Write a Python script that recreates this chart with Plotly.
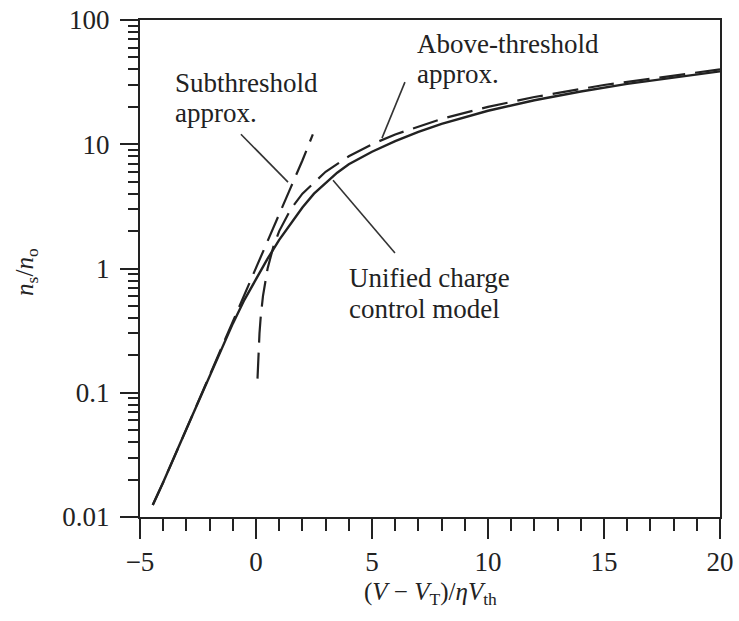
import plotly.graph_objects as go

# Normalised channel voltage (V - VT)/(eta*Vth) and sheet density ns/no
x_unified = [-4.45, -4, -3, -2, -1, -0.5, 0, 0.5, 1, 1.5, 2, 2.5, 3, 3.5, 4,
             5, 6, 7, 8, 10, 12, 14, 16, 18, 20]
n_unified = [0.0125, 0.019, 0.051, 0.137, 0.36, 0.56, 0.82, 1.2, 1.7, 2.3, 3.1,
             4.0, 4.9, 5.9, 6.9, 8.7, 10.6, 12.6, 14.6, 18.6, 22.6, 26.6,
             30.6, 34.6, 38.6]

x_sub = [-4.45, -4, -3, -2, -1, -0.5, 0, 0.5, 1, 1.5, 2, 2.45]
n_sub = [0.0125, 0.019, 0.051, 0.137, 0.37, 0.61, 1.0, 1.65, 2.7, 4.5, 7.4, 12.0]

x_above = [0.065, 0.08, 0.1, 0.15, 0.2, 0.3, 0.5, 0.75, 1, 1.5, 2, 3, 4, 5,
           6, 8, 10, 12, 15, 20]
n_above = [0.13, 0.16, 0.2, 0.3, 0.4, 0.6, 1.0, 1.5, 2, 3, 4, 6, 8, 10,
           12, 16, 20, 24, 30, 40]

x_ticks = [-5, 0, 5, 10, 15, 20]
x_ticktext = ["\u22125", "0", "5", "10", "15", "20"]
y_ticks = [0.01, 0.1, 1, 10, 100]
y_ticktext = ["0.01", "0.1", "1", "10", "100"]

X_RANGE = (-5, 20)
Y_RANGE = (-2, 2)  # log10 units

SERIF = "Liberation Serif, Times New Roman, serif"
INK = "#222222"


def to_paper(x, logn):
    return ((x - X_RANGE[0]) / (X_RANGE[1] - X_RANGE[0]),
            (logn - Y_RANGE[0]) / (Y_RANGE[1] - Y_RANGE[0]))


fig = go.Figure()

fig.add_trace(go.Scatter(x=x_sub, y=n_sub, mode="lines",
                         line=dict(color=INK, width=2.2, dash="26px,10px"),
                         name="Subthreshold approx."))
fig.add_trace(go.Scatter(x=x_above, y=n_above, mode="lines",
                         line=dict(color=INK, width=2.2, dash="26px,10px"),
                         name="Above-threshold approx."))
fig.add_trace(go.Scatter(x=x_unified, y=n_unified, mode="lines",
                         line=dict(color=INK, width=2.4),
                         name="Unified charge control model"))

# Leader lines from the labels to the curves, as (x, log10 n) pairs
leaders = [
    ((-0.65, 1.081), (1.38, 0.695)),
    ((6.42, 1.50), (5.43, 1.049)),
    ((3.32, 0.711), (5.99, 0.124)),
]
for (xa, ya), (xb, yb) in leaders:
    p0 = to_paper(xa, ya)
    p1 = to_paper(xb, yb)
    fig.add_shape(type="line", xref="paper", yref="paper",
                  x0=p0[0], y0=p0[1], x1=p1[0], y1=p1[1],
                  line=dict(color="#333333", width=1.6))

# Label lines: (text, x, log10 n of line centre)
labels = [
    ("Subthreshold", -3.58, 1.492),
    ("approx.", -3.58, 1.250),
    ("Above-threshold", 6.85, 1.805),
    ("approx.", 6.85, 1.564),
    ("Unified charge", 3.92, -0.077),
    ("control model", 3.92, -0.327),
]
for text, lx, ly in labels:
    fig.add_annotation(text=text, x=lx, y=ly, xref="x", yref="y",
                       xanchor="left", yanchor="middle", showarrow=False,
                       font=dict(family=SERIF, size=27, color=INK))

# Axis titles
fig.add_annotation(
    text="(<i>V</i> \u2212 <i>V</i><sub>T</sub>)/<i>\u03b7V</i><sub>th</sub>",
    x=0.5, y=-0.153, xref="paper", yref="paper", xanchor="center",
    yanchor="middle", showarrow=False,
    font=dict(family=SERIF, size=25, color=INK))
fig.add_annotation(
    text="<i>n</i><sub>s</sub>/<i>n</i><sub>o</sub>",
    x=-0.195, y=0.493, xref="paper", yref="paper", xanchor="center",
    yanchor="middle", showarrow=False, textangle=-90,
    font=dict(family=SERIF, size=25, color=INK))

fig.update_xaxes(
    range=list(X_RANGE), tickmode="array", tickvals=x_ticks,
    ticktext=x_ticktext, ticks="outside", ticklen=20, tickwidth=2,
    tickcolor=INK, ticklabelstandoff=0, automargin=False,
    minor=dict(ticks="outside", ticklen=12, tickwidth=2, tickcolor=INK,
               dtick=1, tick0=-5, showgrid=False),
    showline=True, linewidth=2, linecolor=INK, mirror=True,
    showgrid=False, zeroline=False,
    tickfont=dict(family=SERIF, size=27, color=INK))

y_minor = [m * 10 ** e for e in (-2, -1, 0, 1) for m in range(2, 10)]
fig.update_yaxes(
    type="log", range=list(Y_RANGE), tickmode="array", tickvals=y_ticks,
    ticktext=y_ticktext, ticks="outside", ticklen=18, tickwidth=2,
    tickcolor=INK, ticklabelstandoff=5, automargin=False,
    minor=dict(ticks="outside", ticklen=10, tickwidth=2, tickcolor=INK,
               tickmode="array", tickvals=y_minor, showgrid=False),
    showline=True, linewidth=2, linecolor=INK, mirror=True,
    showgrid=False, zeroline=False,
    tickfont=dict(family=SERIF, size=27, color=INK))

fig.update_layout(
    width=739, height=621,
    margin=dict(l=140, r=19, t=20, b=104, autoexpand=False),
    paper_bgcolor="white", plot_bgcolor="white",
    showlegend=False,
)

fig.write_html("out.html")
